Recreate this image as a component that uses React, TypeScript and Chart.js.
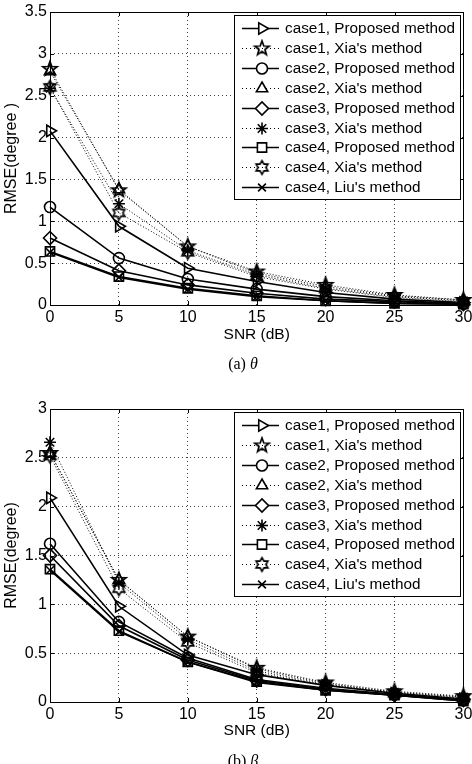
import React, { useEffect, useRef } from "react";
import { Chart, registerables } from "chart.js";
import { drawPoint } from "chart.js/helpers";

Chart.register(...registerables);

// SNR sweep (dB)
const snrDb = [0, 5, 10, 15, 20, 25, 30];

// Axis ticks
const snrTicks = [0, 5, 10, 15, 20, 25, 30];
const thetaTicks = [0, 0.5, 1, 1.5, 2, 2.5, 3, 3.5];
const betaTicks = [0, 0.5, 1, 1.5, 2, 2.5, 3];

// Series names (shared by both panels)
const seriesLabels = [
  "case1, Proposed method",
  "case1, Xia's method",
  "case2, Proposed method",
  "case2, Xia's method",
  "case3, Proposed method",
  "case3, Xia's method",
  "case4, Proposed method",
  "case4, Xia's method",
  "case4, Liu's method",
];

// RMSE of theta (degree)
const thetaC1Proposed = [2.08, 0.94, 0.44, 0.28, 0.15, 0.07, 0.03];
const thetaC1Xia = [2.82, 1.37, 0.7, 0.4, 0.24, 0.12, 0.06];
const thetaC2Proposed = [1.17, 0.56, 0.31, 0.19, 0.1, 0.05, 0.02];
const thetaC2Xia = [2.79, 1.38, 0.7, 0.38, 0.22, 0.11, 0.06];
const thetaC3Proposed = [0.8, 0.41, 0.24, 0.14, 0.07, 0.04, 0.01];
const thetaC3Xia = [2.59, 1.21, 0.65, 0.36, 0.2, 0.1, 0.05];
const thetaC4Proposed = [0.64, 0.34, 0.2, 0.11, 0.05, 0.02, 0.01];
const thetaC4Xia = [2.6, 1.1, 0.63, 0.34, 0.19, 0.09, 0.04];
const thetaC4Liu = [0.63, 0.33, 0.19, 0.1, 0.05, 0.02, 0.01];

// RMSE of beta (degree)
const betaC1Proposed = [2.09, 0.98, 0.48, 0.28, 0.17, 0.09, 0.03];
const betaC1Xia = [2.55, 1.25, 0.67, 0.35, 0.2, 0.11, 0.06];
const betaC2Proposed = [1.62, 0.82, 0.45, 0.23, 0.14, 0.08, 0.02];
const betaC2Xia = [2.55, 1.25, 0.67, 0.34, 0.19, 0.1, 0.05];
const betaC3Proposed = [1.5, 0.78, 0.43, 0.22, 0.13, 0.07, 0.02];
const betaC3Xia = [2.66, 1.22, 0.64, 0.32, 0.18, 0.1, 0.05];
const betaC4Proposed = [1.36, 0.73, 0.41, 0.21, 0.12, 0.07, 0.01];
const betaC4Xia = [2.52, 1.16, 0.61, 0.3, 0.17, 0.09, 0.04];
const betaC4Liu = [1.35, 0.72, 0.41, 0.2, 0.12, 0.07, 0.01];

const SANS = '"Liberation Sans", Arial, Helvetica, sans-serif';
const SERIF = '"Liberation Serif", "Times New Roman", serif';

// Outline star marker drawn onto a small canvas (pentagram / hexagram)
function starMarker(points: number, outerR: number, innerR: number, lw: number): HTMLCanvasElement {
  const size = Math.ceil(2 * outerR + lw + 3);
  const c = document.createElement("canvas");
  c.width = size;
  c.height = size;
  const g = c.getContext("2d")!;
  const cx = size / 2;
  const cy = size / 2;
  g.beginPath();
  for (let k = 0; k < points * 2; k++) {
    const r = k % 2 === 0 ? outerR : innerR;
    const a = -Math.PI / 2 + (k * Math.PI) / points;
    const px = cx + r * Math.cos(a);
    const py = cy + r * Math.sin(a);
    if (k === 0) g.moveTo(px, py);
    else g.lineTo(px, py);
  }
  g.closePath();
  g.lineWidth = lw;
  g.strokeStyle = "#000";
  g.lineJoin = "miter";
  g.stroke();
  return c;
}

type MarkerSpec = { style: any; radius: number; rotation: number; dotted: boolean };

function markerSpecs(): MarkerSpec[] {
  const pentagram = starMarker(5, 7.5, 3.1, 1.7);
  const hexagram = starMarker(6, 6.8, 3.9, 1.6);
  return [
    { style: "triangle", radius: 6.5, rotation: 90, dotted: false },
    { style: pentagram, radius: 7, rotation: 0, dotted: true },
    { style: "circle", radius: 5.5, rotation: 0, dotted: false },
    { style: "triangle", radius: 6.5, rotation: 0, dotted: true },
    { style: "rectRot", radius: 6.5, rotation: 0, dotted: false },
    { style: "star", radius: 6, rotation: 0, dotted: true },
    { style: "rect", radius: 6.5, rotation: 0, dotted: false },
    { style: hexagram, radius: 7, rotation: 0, dotted: true },
    { style: "crossRot", radius: 5.5, rotation: 0, dotted: false },
  ];
}

const LINE_DOT = [1, 2];
const LEGEND_DOT = [1, 3];

// Axes box with inward tick marks
const axesBox = {
  id: "axesBox",
  beforeDatasetsDraw(chart: any) {
    const { ctx, chartArea, scales } = chart;
    const { left, right, top, bottom } = chartArea;
    ctx.save();
    ctx.strokeStyle = "#000";
    ctx.lineWidth = 1;
    ctx.setLineDash([]);
    ctx.strokeRect(Math.round(left) + 0.5, Math.round(top) + 0.5, Math.round(right - left), Math.round(bottom - top));
    const len = 4;
    ctx.beginPath();
    scales.x.ticks.forEach((t: any) => {
      const px = Math.round(scales.x.getPixelForValue(t.value)) + 0.5;
      ctx.moveTo(px, bottom);
      ctx.lineTo(px, bottom - len);
      ctx.moveTo(px, top);
      ctx.lineTo(px, top + len);
    });
    scales.y.ticks.forEach((t: any) => {
      const py = Math.round(scales.y.getPixelForValue(t.value)) + 0.5;
      ctx.moveTo(left, py);
      ctx.lineTo(left + len, py);
      ctx.moveTo(right, py);
      ctx.lineTo(right - len, py);
    });
    ctx.stroke();
    ctx.restore();
  },
};

// Boxed legend inside the upper-right corner of the plot area
const boxLegend = {
  id: "boxLegend",
  afterDatasetsDraw(chart: any, _args: any, opts: any) {
    const { ctx, chartArea } = chart;
    const specs: MarkerSpec[] = opts.specs;
    const w = opts.width;
    const h = opts.height;
    const left = Math.round(chartArea.right - opts.inset - w);
    const top = Math.round(chartArea.top + opts.inset);
    ctx.save();
    ctx.fillStyle = "#fff";
    ctx.fillRect(left, top, w, h);
    ctx.strokeStyle = "#000";
    ctx.lineWidth = 1;
    ctx.strokeRect(left + 0.5, top + 0.5, w, h);
    ctx.font = `15.3px ${SANS}`;
    ctx.textBaseline = "middle";
    ctx.textAlign = "left";
    chart.data.datasets.forEach((ds: any, i: number) => {
      const spec = specs[i];
      const y = Math.round(top + opts.firstRow + i * opts.rowGap) + 0.5;
      const x0 = left + 8;
      const x1 = left + 45;
      const xm = left + 28;
      ctx.save();
      ctx.strokeStyle = "#000";
      ctx.lineWidth = spec.dotted ? 1 : 1.7;
      ctx.setLineDash(spec.dotted ? LEGEND_DOT : []);
      ctx.beginPath();
      ctx.moveTo(x0, y);
      ctx.lineTo(x1, y);
      ctx.stroke();
      ctx.setLineDash([]);
      ctx.fillStyle = "#fff";
      ctx.strokeStyle = "#000";
      ctx.lineWidth = 1.6;
      drawPoint(ctx, { pointStyle: spec.style, rotation: spec.rotation, radius: spec.radius, borderWidth: 1.6 } as any, xm, y);
      ctx.restore();
      ctx.fillStyle = "#000";
      ctx.fillText(ds.label, left + 51, y + 0.5);
    });
    ctx.restore();
  },
};

type PanelProps = {
  series: number[][];
  yTicks: number[];
  yMax: number;
  yTitle: string;
  height: number;
  padTop: number;
  xAxisHeight: number;
  xTitlePad: number;
};

function Panel(p: PanelProps) {
  const ref = useRef<HTMLCanvasElement | null>(null);
  useEffect(() => {
    const canvas = ref.current;
    if (!canvas) return;
    const specs = markerSpecs();
    const datasets = p.series.map((vals, i) => {
      const s = specs[i];
      return {
        label: seriesLabels[i],
        data: snrDb.map((x, k) => ({ x, y: vals[k] })),
        borderColor: "#000",
        borderWidth: s.dotted ? 1 : 1.6,
        borderDash: s.dotted ? LINE_DOT : [],
        pointStyle: s.style,
        pointRadius: s.radius,
        pointRotation: s.rotation,
        pointBorderColor: "#000",
        pointBackgroundColor: "rgba(0,0,0,0)",
        pointBorderWidth: 1.6,
        fill: false,
        tension: 0,
        clip: false as any,
      };
    });
    const chart = new Chart(canvas, {
      type: "line",
      data: { datasets: datasets as any },
      plugins: [axesBox, boxLegend],
      options: {
        responsive: false,
        animation: false,
        events: [],
        devicePixelRatio: 1,
        layout: { padding: { top: p.padTop, right: 8, left: 0, bottom: 0 } },
        plugins: {
          legend: { display: false },
          tooltip: { enabled: false },
          boxLegend: { specs, width: 226, height: 184, inset: 3, firstRow: 13, rowGap: 19.9 },
        } as any,
        scales: {
          x: {
            type: "linear",
            min: 0,
            max: 30,
            afterBuildTicks: (scale: any) => {
              scale.ticks = snrTicks.map((v) => ({ value: v }));
            },
            afterFit: (scale: any) => {
              scale.height = p.xAxisHeight;
              scale.paddingLeft = 0;
              scale.paddingRight = 0;
            },
            grid: { color: "rgba(0,0,0,0.75)", lineWidth: 1, drawTicks: false },
            border: { display: false, dash: [1, 3] },
            ticks: {
              color: "#000",
              font: { family: SANS, size: 16 },
              padding: 3,
              maxRotation: 0,
              autoSkip: false,
              callback: (v: any) => String(v),
            },
            title: {
              display: true,
              text: "SNR (dB)",
              color: "#000",
              font: { family: SANS, size: 15.5 },
              padding: { top: 0, bottom: p.xTitlePad },
            },
          },
          y: {
            type: "linear",
            min: 0,
            max: p.yMax,
            afterBuildTicks: (scale: any) => {
              scale.ticks = p.yTicks.map((v) => ({ value: v }));
            },
            afterFit: (scale: any) => {
              scale.width = 50;
              scale.paddingTop = 0;
              scale.paddingBottom = 0;
            },
            grid: { color: "rgba(0,0,0,0.75)", lineWidth: 1, drawTicks: false },
            border: { display: false, dash: [1, 3] },
            ticks: {
              color: "#000",
              font: { family: SANS, size: 16 },
              padding: 3,
              autoSkip: false,
              callback: (v: any) => String(v),
            },
            title: {
              display: true,
              text: p.yTitle,
              color: "#000",
              font: { family: SANS, size: 16 },
              padding: { top: 2, bottom: 0 },
            },
          },
        },
      } as any,
    });
    return () => chart.destroy();
  }, []);
  return <canvas ref={ref} width={472} height={p.height} style={{ display: "block", width: 472, height: p.height }} />;
}

const captionStyle: React.CSSProperties = {
  position: "absolute",
  left: 193,
  width: 100,
  height: 18,
  lineHeight: "18px",
  textAlign: "center",
  fontFamily: SERIF,
  fontSize: 16,
  color: "#000",
  whiteSpace: "nowrap",
};

export default function App() {
  return (
    <div style={{ position: "absolute", left: 0, top: 0, width: 472, height: 764, background: "#fff", overflow: "hidden" }}>
      <div style={{ position: "absolute", left: 0, top: 0 }}>
        <Panel
          series={[
            thetaC1Proposed,
            thetaC1Xia,
            thetaC2Proposed,
            thetaC2Xia,
            thetaC3Proposed,
            thetaC3Xia,
            thetaC4Proposed,
            thetaC4Xia,
            thetaC4Liu,
          ]}
          yTicks={thetaTicks}
          yMax={3.5}
          yTitle="RMSE(degree )"
          height={382}
          padTop={12}
          xAxisHeight={77}
          xTitlePad={38}
        />
      </div>
      <div style={{ ...captionStyle, top: 355 }}>
        (a) <i>θ</i>
      </div>
      <div style={{ position: "absolute", left: 0, top: 382 }}>
        <Panel
          series={[
            betaC1Proposed,
            betaC1Xia,
            betaC2Proposed,
            betaC2Xia,
            betaC3Proposed,
            betaC3Xia,
            betaC4Proposed,
            betaC4Xia,
            betaC4Liu,
          ]}
          yTicks={betaTicks}
          yMax={3}
          yTitle="RMSE(degree)"
          height={382}
          padTop={27}
          xAxisHeight={62}
          xTitlePad={24}
        />
      </div>
      <div style={{ ...captionStyle, top: 752 }}>
        (b) <i>β</i>
      </div>
    </div>
  );
}
